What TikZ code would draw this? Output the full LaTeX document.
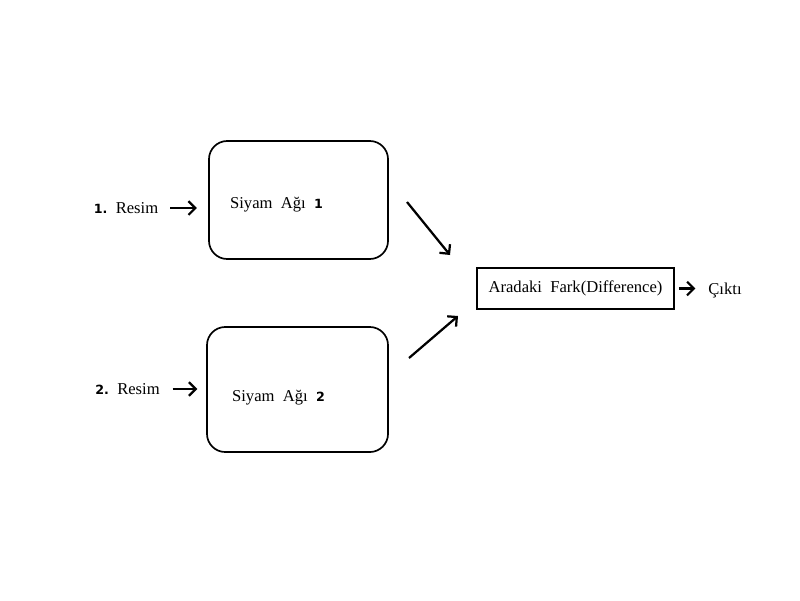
\documentclass[tikz,border=0pt]{standalone}
\usepackage{fontspec}
\setmainfont{Liberation Serif}
\newfontfamily\numfont{DejaVu Sans}
\usetikzlibrary{arrows.meta,positioning}

\begin{document}
\begin{tikzpicture}[x=0.025cm,y=-0.025cm,font=\fontsize{11.8}{14}\selectfont,
  arr/.style={-{Straight Barb[length=1.7mm,width=3.4mm]},line width=1.6pt},
  net/.style={draw,line width=1.2pt,rounded corners=13pt}]
\useasboundingbox (0,0) rectangle (800,600);
% siamese networks
\node[net,minimum width=4.475cm,minimum height=2.95cm] (net1) at (298.5,200) {};
\node[net,minimum width=4.525cm,minimum height=3.125cm] (net2) at (297.5,389.5) {};
\node (lab1) at (276.5,205) {Siyam\ \ Ağı\ \ {\numfont\bfseries\small 1}};
\node (lab2) at (278.5,398) {Siyam\ \ Ağı\ \ {\numfont\bfseries\small 2}};
% inputs
\node[inner sep=0pt] (in1) at (126,208) {{\numfont\bfseries\small 1.}\ \ Resim};
\node[inner sep=0pt] (in2) at (127.5,389) {{\numfont\bfseries\small 2.}\ \ Resim};
\draw[arr,shorten <=0.3cm,shorten >=0.28cm] (in1.east) -- (in1.east -| net1.west);
\draw[arr,shorten <=0.32cm,shorten >=0.22cm] (in2.east) -- (in2.east -| net2.west);
% difference and output
\node[draw,line width=1.3pt,minimum width=4.925cm,minimum height=1.025cm] (diff) at (575.5,288.5) {Aradaki\ \ Fark(Difference)};
\node (out) at (725,291) {Çıktı};
\draw[arr,shorten <=0.1cm,shorten >=0.2cm] (diff.east) -- (diff.east -| out.west);
\coordinate (d1s) at (407,202);\coordinate (d1e) at (450,255);
\coordinate (d2s) at (409,358);\coordinate (d2e) at (458,316);
\draw[arr] (d1s)--(d1e);\draw[arr] (d2s)--(d2e);
\end{tikzpicture}
\end{document}
